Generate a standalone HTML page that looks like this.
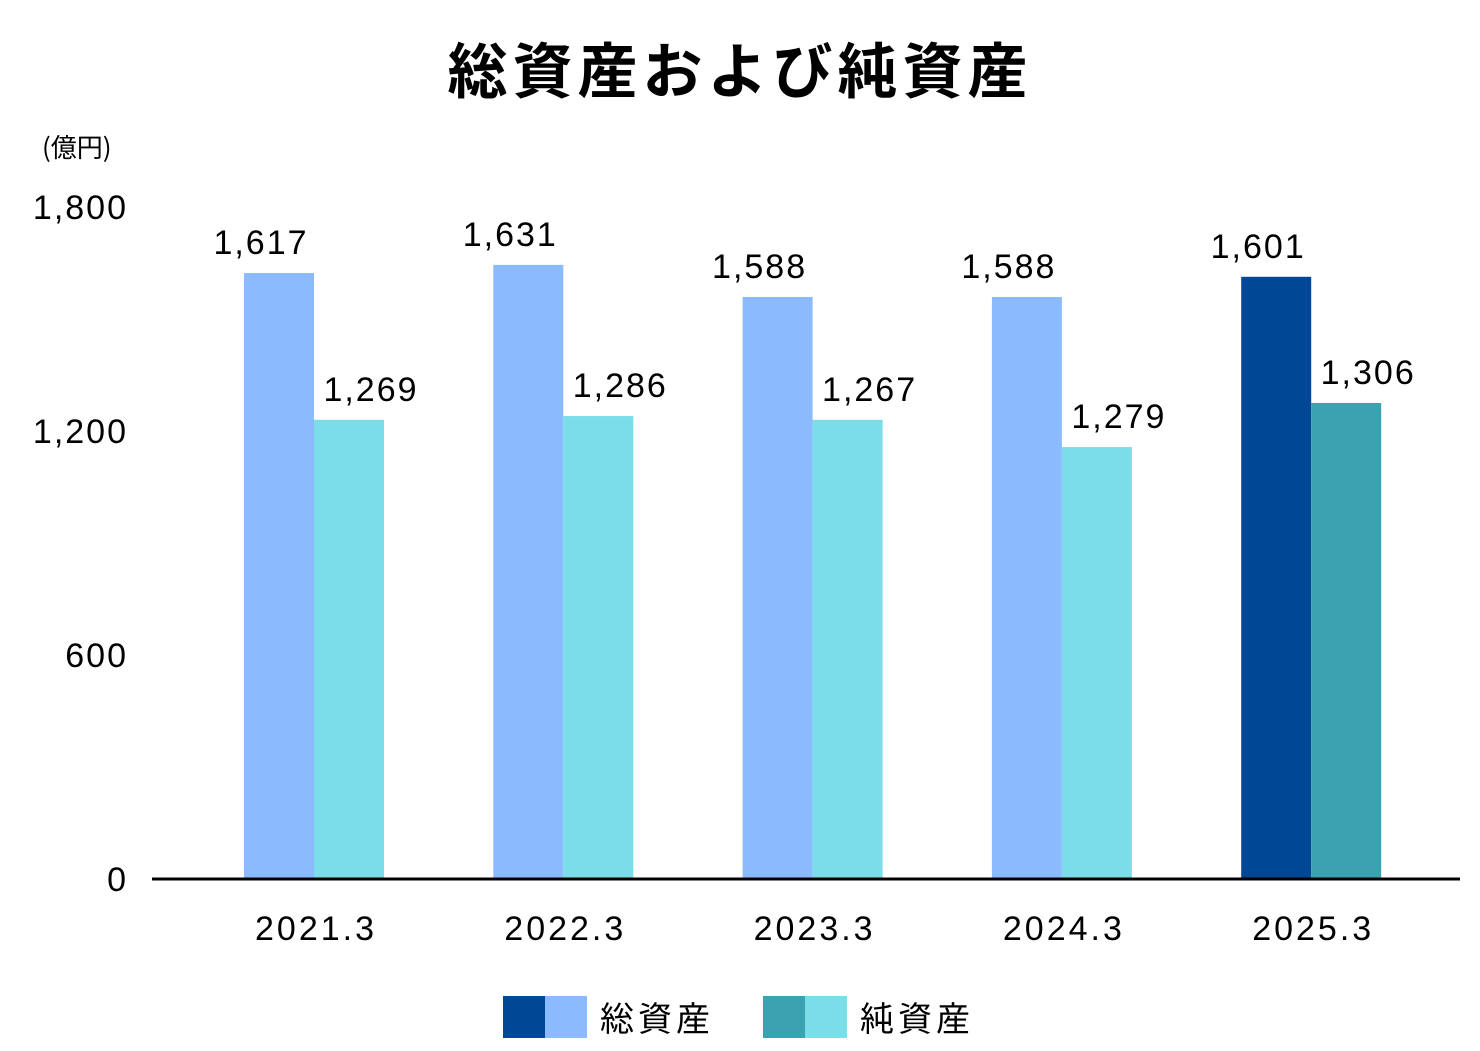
<!DOCTYPE html>
<html><head><meta charset="utf-8"><style>
body{margin:0;background:#fff;width:1480px;height:1046px;overflow:hidden;font-family:"Liberation Sans","Noto Sans CJK JP",sans-serif}
</style></head><body>
<svg id="c" width="1480" height="1046" xmlns="http://www.w3.org/2000/svg" font-family="'Liberation Sans','Noto Sans CJK JP',sans-serif">
<text x="740" y="93" text-anchor="middle" font-size="60" font-weight="bold" letter-spacing="5" font-family="'Noto Sans CJK JP',sans-serif">総資産および純資産</text>
<text x="42" y="157" font-size="26" font-family="'Noto Sans CJK JP',sans-serif">(億円)</text>
<g id="ticks"></g><g id="bars"></g>
<line x1="152" x2="1460" y1="879" y2="879" stroke="#000" stroke-width="3"/>
<g>
<rect x="503" y="996" width="42" height="42" fill="#004896"/>
<rect x="545" y="996" width="42" height="42" fill="#8cbaff"/>
<text x="600" y="1031" font-size="34" letter-spacing="4" font-family="'Noto Sans CJK JP',sans-serif">総資産</text>
<rect x="763" y="996" width="42" height="42" fill="#3aa2b0"/>
<rect x="805" y="996" width="42" height="42" fill="#7adde8"/>
<text x="860" y="1031" font-size="34" letter-spacing="4" font-family="'Noto Sans CJK JP',sans-serif">純資産</text>
</g>
</svg>
<script>
const categories=["2021.3","2022.3","2023.3","2024.3","2025.3"];
const totalLabels=["1,617","1,631","1,588","1,588","1,601"];
const netLabels=["1,269","1,286","1,267","1,279","1,306"];
const totalValues=[1623,1645,1559,1559,1613];
const netValues=[1230,1240,1230,1157,1275];
const tickValues=[0,600,1200,1800];
const tickLabels=["0","600","1,200","1,800"];
const NS="http://www.w3.org/2000/svg";
const y=v=>879-v*224/600;
const x=i=>314+i*249.3;
function mk(tag,attrs,parent,txt){const e=document.createElementNS(NS,tag);for(const k in attrs)e.setAttribute(k,attrs[k]);if(txt!=null)e.textContent=txt;parent.appendChild(e);return e;}
const tg=document.getElementById('ticks'),bg=document.getElementById('bars');
tickValues.forEach((v,i)=>{const t=mk('text',{x:128,y:y(v)+12,'text-anchor':'end','font-size':34,'letter-spacing':2},tg,tickLabels[i]);

});
categories.forEach((c,i)=>{
const last=i===categories.length-1;
const b1=mk('rect',{x:x(i)-70,y:y(totalValues[i]),width:70,height:879-y(totalValues[i]),fill:last?'#004896':'#8cbaff'},bg);


const b2=mk('rect',{x:x(i),y:y(netValues[i]),width:70,height:879-y(netValues[i]),fill:last?'#3aa2b0':'#7adde8'},bg);


const l1=mk('text',{x:x(i)-53,y:y(totalValues[i])-19,'text-anchor':'middle','font-size':34,'letter-spacing':2},bg,totalLabels[i]);


const l2=mk('text',{x:x(i)+57,y:y(netValues[i])-19,'text-anchor':'middle','font-size':34,'letter-spacing':2},bg,netLabels[i]);


const cl=mk('text',{x:x(i)+2,y:940,'text-anchor':'middle','font-size':34,'letter-spacing':3},bg,c);


});
</script>
</body></html>
